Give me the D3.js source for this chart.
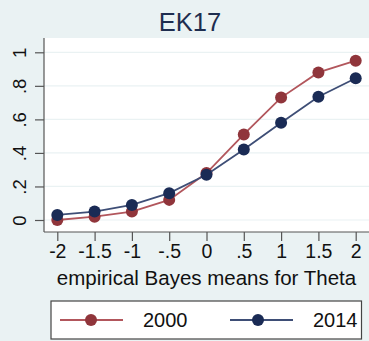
<!DOCTYPE html>
<html>
<head>
<meta charset="utf-8">
<script src="https://cdn.jsdelivr.net/npm/d3@7"></script>
<style>
  html, body { margin: 0; padding: 0; background: #eaf2f3; }
  svg { display: block; }
  text { font-family: "Liberation Sans", Arial, sans-serif; }
</style>
</head>
<body>
<svg id="chart" width="369" height="341"></svg>
<script>
// Theta grid points (x) and the two survey years
const thetaPoints = [-2, -1.5, -1, -0.5, 0, 0.5, 1, 1.5, 2];
const xTickLabels = ["-2", "-1.5", "-1", "-.5", "0", ".5", "1", "1.5", "2"];
const yTickValues = [0, 0.2, 0.4, 0.6, 0.8, 1];
const yTickLabels = ["0", ".2", ".4", ".6", ".8", "1"];
const seriesNames = ["2000", "2014"];
const values2000 = [0.00, 0.02, 0.05, 0.12, 0.28, 0.51, 0.73, 0.88, 0.95];
const values2014 = [0.03, 0.05, 0.09, 0.16, 0.27, 0.42, 0.58, 0.735, 0.845];
const seriesColors = ["#90353b", "#1a2b55"];
const lineColors = ["#b2565c", "#3e4e76"];

const svg = d3.select("#chart");

// plot region
const plot = { left: 44, top: 38, right: 372, bottom: 232 };

const x = d3.scaleLinear().domain([-2, 2]).range([57.3, 355.7]);
const y = d3.scaleLinear().domain([0, 1]).range([220, 52.3]);

// title
svg.append("text")
  .attr("x", 190).attr("y", 31)
  .attr("text-anchor", "middle")
  .attr("font-size", 25.5)
  .attr("fill", "#1e2d4f")
  .text("EK17");

// white plot area
svg.append("rect")
  .attr("x", plot.left).attr("y", plot.top)
  .attr("width", plot.right - plot.left).attr("height", plot.bottom - plot.top)
  .attr("fill", "#ffffff");

// horizontal grid lines
svg.append("g").selectAll("line")
  .data(yTickValues)
  .join("line")
  .attr("x1", plot.left).attr("x2", plot.right)
  .attr("y1", d => y(d)).attr("y2", d => y(d))
  .attr("stroke", "#eaf2f3").attr("stroke-width", 1.2);

// y axis
const yAxis = d3.axisLeft(y)
  .tickValues(yTickValues)
  .tickFormat((d, i) => yTickLabels[i])
  .tickSize(9)
  .tickPadding(0);
const gy = svg.append("g")
  .attr("transform", `translate(${plot.left},0)`)
  .call(yAxis);
gy.select(".domain").attr("d", `M0,${plot.top}V${plot.bottom}`).attr("stroke", "#555").attr("stroke-width", 1.2);
gy.selectAll(".tick line").attr("stroke", "#555").attr("stroke-width", 1.2);
gy.selectAll(".tick text")
  .attr("x", null)
  .attr("text-anchor", "middle")
  .attr("transform", "translate(-24,0) rotate(-90)")
  .attr("dy", "0.35em")
  .attr("font-size", 18.5)
  .attr("fill", "#111");

// x axis
const xAxis = d3.axisBottom(x)
  .tickValues(thetaPoints)
  .tickFormat((d, i) => xTickLabels[i])
  .tickSize(9)
  .tickPadding(3);
const gx = svg.append("g")
  .attr("transform", `translate(0,${plot.bottom})`)
  .call(xAxis);
gx.select(".domain").attr("d", `M${plot.left},0H${plot.right}`).attr("stroke", "#555").attr("stroke-width", 1.2);
gx.selectAll(".tick line").attr("stroke", "#555").attr("stroke-width", 1.2);
gx.selectAll(".tick text")
  .attr("font-size", 19.5)
  .attr("fill", "#111")
  .attr("dy", "0.71em");

// x axis title
svg.append("text")
  .attr("x", 206.5).attr("y", 285)
  .attr("text-anchor", "middle")
  .attr("font-size", 20.5)
  .attr("fill", "#111")
  .text("empirical Bayes means for Theta");

// series lines and markers
const series = [values2000, values2014];
const line = d3.line().x((d, i) => x(thetaPoints[i])).y(d => y(d));

series.forEach((vals, k) => {
  svg.append("path")
    .datum(vals)
    .attr("d", line)
    .attr("fill", "none")
    .attr("stroke", lineColors[k])
    .attr("stroke-width", 1.8);
  svg.append("g").selectAll("circle")
    .data(vals)
    .join("circle")
    .attr("cx", (d, i) => x(thetaPoints[i]))
    .attr("cy", d => y(d))
    .attr("r", 6)
    .attr("fill", seriesColors[k]);
});

// legend
const legend = svg.append("g");
legend.append("rect")
  .attr("x", 51).attr("y", 301)
  .attr("width", 310.5).attr("height", 38)
  .attr("fill", "#ffffff")
  .attr("stroke", "#444").attr("stroke-width", 1.2);

const legendItems = [
  { x1: 60, x2: 123, cx: 91, tx: 143 },
  { x1: 230, x2: 293, cx: 258, tx: 313 }
];
legendItems.forEach((it, k) => {
  legend.append("line")
    .attr("x1", it.x1).attr("x2", it.x2)
    .attr("y1", 320).attr("y2", 320)
    .attr("stroke", lineColors[k]).attr("stroke-width", 1.8);
  legend.append("circle")
    .attr("cx", it.cx).attr("cy", 320).attr("r", 6)
    .attr("fill", seriesColors[k]);
  legend.append("text")
    .attr("x", it.tx).attr("y", 327)
    .attr("font-size", 20)
    .attr("fill", "#111")
    .text(seriesNames[k]);
});
</script>
</body>
</html>
